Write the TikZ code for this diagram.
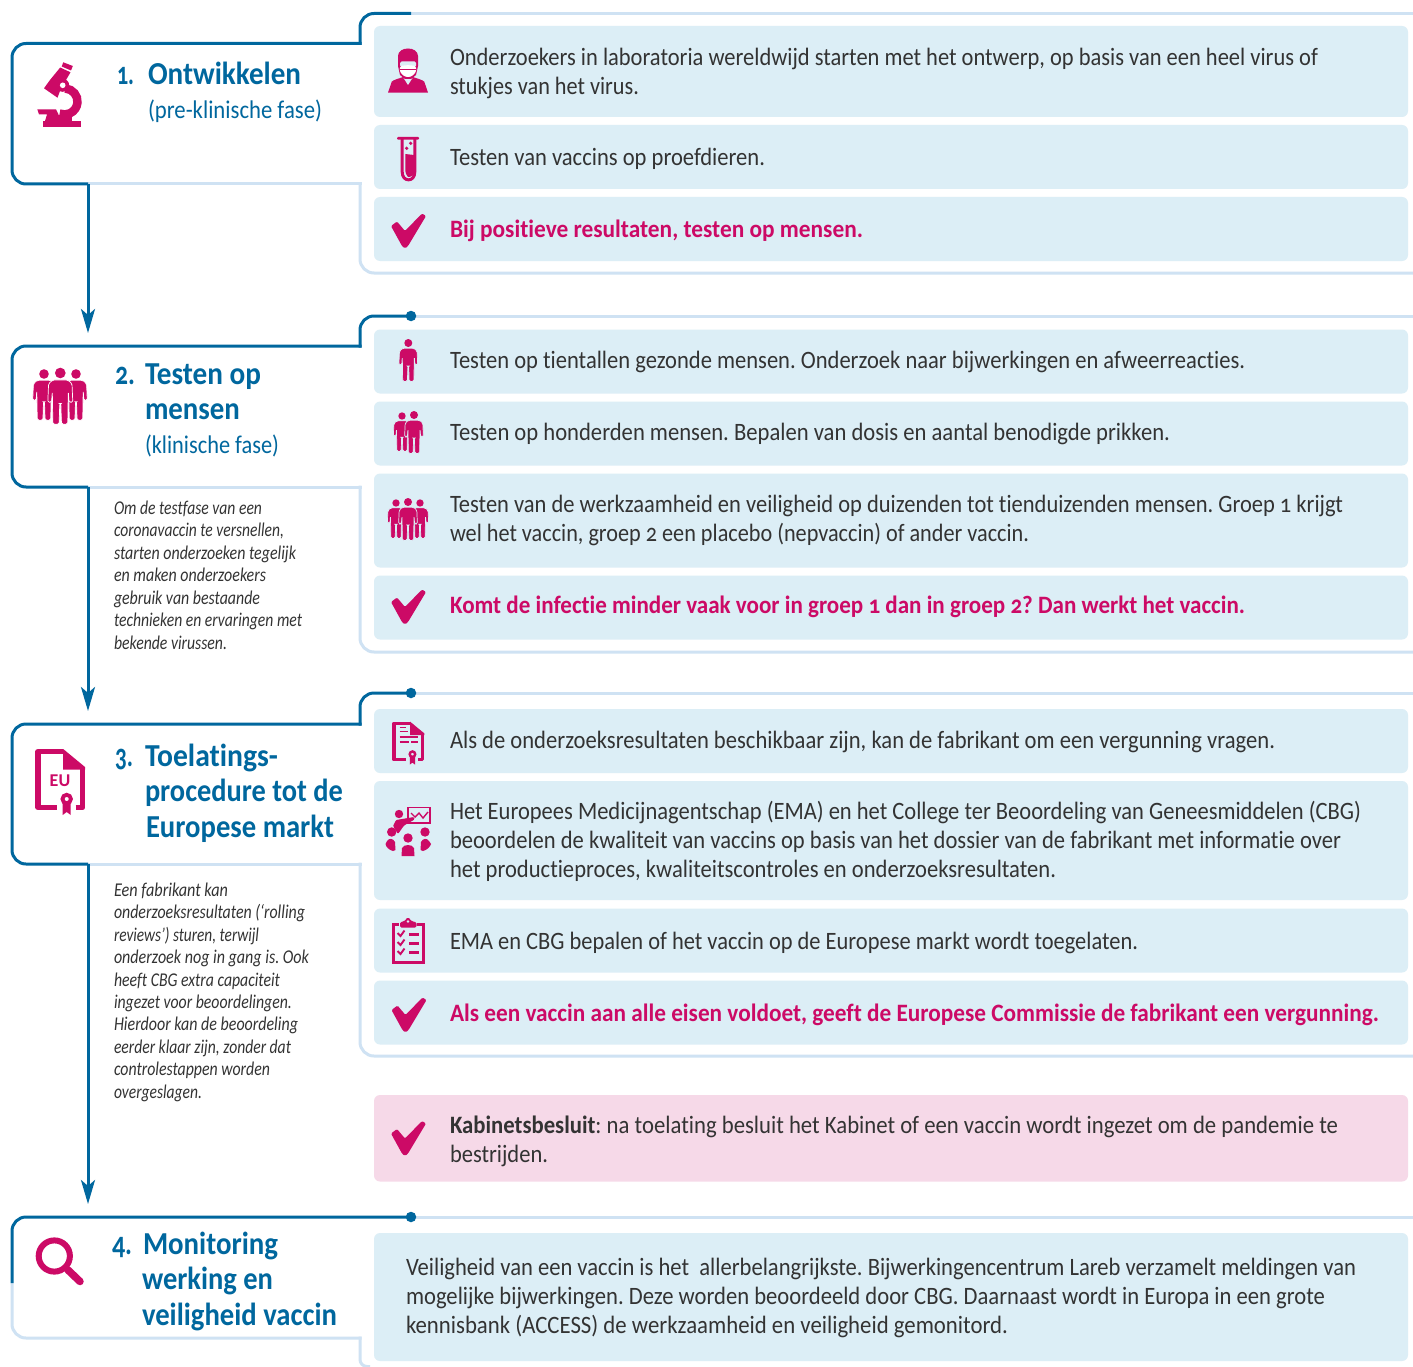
\documentclass[tikz,border=0pt]{standalone}
\usepackage{fontspec}
\usepackage{graphicx}
\setmainfont[Numbers=OldStyle,Ligatures=NoCommon]{Carlito}
\usetikzlibrary{arrows.meta}
\definecolor{dkblue}{HTML}{00679E}
\definecolor{ltline}{HTML}{CFE2F3}
\definecolor{boxblue}{HTML}{DCEEF6}
\definecolor{boxpink}{HTML}{F6D9E8}
\definecolor{mag}{HTML}{CC0A66}
\definecolor{txt}{HTML}{333333}
\newcommand\fitw[2]{\sbox0{#2}\pgfmathsetmacro\fitr{(#1)/\wd0}\scalebox{\fitr}[1]{\usebox0}}
\newcommand\tl[6]{\node[#1,anchor=base west] (#2) at (#3,#4) {\frenchspacing\fitw{#5-#3}{#6}};}
\newcommand\chkicon[2]{\fill[mag,rounded corners=1.2pt,shift={(#1,#2)}] (0,13)--(6,8.5)--(14,18)--(31,.5)--(35,3)--(17,33)--(14,35.5)--(11,33)--cycle;}
\newcommand\personicon[4]{\begin{scope}[shift={(#1,#2)},scale=#3]
\fill[mag] (0,0) circle (4);
\filldraw[fill=mag,draw=#4,line width=.7pt,rounded corners=1.5pt] (-5.5,5.2)--(5.5,5.2)--(8.8,8)--(9.4,22)--(6.6,22)--(6,14)--(5.6,38.5)--(.9,38.5)--(.4,23)--(-.4,23)--(-.9,38.5)--(-5.6,38.5)--(-6,14)--(-6.6,22)--(-9.4,22)--(-8.8,8)--cycle;
\end{scope}}
\newcommand\docicon[4]{\begin{scope}[shift={(#1,#2)},scale=#3]
\draw[mag,line width=#4pt,line join=round] (27.5,2.5)--(2.5,2.5)--(2.5,58.5)--(21,58.5);
\draw[mag,line width=#4pt,line join=round] (40,58.5)--(46.8,58.5)--(46.8,18);
\fill[mag] (27.5,0)--(49.3,18)--(49.3,20.5)--(27.5,20.5)--cycle;
\draw[mag,line width=#4*.7pt] (31,50) circle (4.2);
\fill[mag] (27,54)--(35,54)--(35,66)--(31,63)--(27,66)--cycle;
\end{scope}}
\newcommand\stepframe[4]{% header top, header bottom, frame top, frame bottom
\draw[lt] (88,#2)--(361.5,#2);
\draw[lt,rounded corners=14pt] (360,#2-1.5)--(360,#4)--(1420,#4);
\draw[lt] (411,#3)--(1420,#3);
\draw[dk,rounded corners=14pt] (88,#2)--(12,#2)--(12,#1)--(361.5,#1);
\draw[dk,rounded corners=14pt] (360,#1+1.5)--(360,#3)--(411,#3);
}
\tikzset{
 lt/.style={draw=ltline,line width=3pt},
 dk/.style={draw=dkblue,line width=3pt},
 flow/.style={draw=dkblue,line width=3pt,-{Stealth[length=24pt,width=14pt,inset=6pt]}},
 dotmark/.style={circle,fill=dkblue,inner sep=0,minimum size=10.5pt},
 bluebox/.style={fill=boxblue,rounded corners=6pt,inner sep=0,outer sep=0,anchor=north west,minimum width=1034pt},
 pinkbox/.style={fill=boxpink,rounded corners=6pt,inner sep=0,outer sep=0,anchor=north west,minimum width=1034pt},
 body/.style={text=txt,font=\fontsize{25}{28}\selectfont,inner sep=0,outer sep=0},
 bodyb/.style={text=mag,font=\fontsize{25}{28}\selectfont\bfseries,inner sep=0,outer sep=0},
 head/.style={text=dkblue,font=\fontsize{32}{35}\selectfont\bfseries,inner sep=0,outer sep=0},
 sub/.style={text=dkblue,font=\fontsize{25.5}{28}\selectfont,inner sep=0,outer sep=0},
 note/.style={text=txt,font=\fontsize{19.5}{22}\selectfont\itshape,inner sep=0,outer sep=0},
}
\begin{document}
\begin{tikzpicture}[x=1pt,y=-1pt]
\useasboundingbox (0,0) rectangle (1413,1367);
\fill[white] (0,0) rectangle (1413,1367);
% frames
\stepframe{43.5}{184}{13.5}{273}
\stepframe{346}{487}{316}{652}
\stepframe{724}{864}{693}{1056}
\draw[lt] (411,1217)--(1420,1217);
\draw[lt,rounded corners=14pt] (12,1283)--(12,1338)--(361.5,1338);
\draw[lt,rounded corners=7pt] (360,1336.5)--(360,1366.5)--(370,1366.5);
\draw[dk,rounded corners=14pt] (12,1283)--(12,1217)--(411,1217);
\node[dotmark] (d2) at (411,316) {};
\node[dotmark] (d3) at (411,693) {};
\node[dotmark] (d4) at (411,1217) {};
% arrows
\coordinate (s1) at (88,184); \coordinate (e1) at (88,333);
\coordinate (s2) at (88,487); \coordinate (e2) at (88,711);
\coordinate (s3) at (88,864); \coordinate (e3) at (88,1204);
\draw[flow] (s1)--(e1);
\draw[flow] (s2)--(e2);
\draw[flow] (s3)--(e3);
% boxes
\node[bluebox,minimum height=91pt] (b1) at (374,26) {};
\node[bluebox,minimum height=64pt] (b2) at (374,125) {};
\node[bluebox,minimum height=64pt] (b3) at (374,197) {};
\node[bluebox,minimum height=64pt] (b4) at (374,329.5) {};
\node[bluebox,minimum height=64pt] (b5) at (374,401.5) {};
\node[bluebox,minimum height=94pt] (b6) at (374,473.5) {};
\node[bluebox,minimum height=64pt] (b7) at (374,575.5) {};
\node[bluebox,minimum height=64pt] (b8) at (374,709) {};
\node[bluebox,minimum height=119pt] (b9) at (374,781) {};
\node[bluebox,minimum height=64pt] (b10) at (374,908.5) {};
\node[bluebox,minimum height=64pt] (b11) at (374,980.5) {};
\node[pinkbox,minimum height=86.5pt] (b12) at (374,1095) {};
\node[bluebox,minimum height=128pt] (b13) at (374,1233) {};
% body texts
\tl{body}{t1a}{450}{65.5}{1318}{Onderzoekers in laboratoria wereldwijd starten met het ontwerp, op basis van een heel virus of}
\tl{body}{t1b}{450}{94.5}{639}{stukjes van het virus.}
\tl{body}{t2}{450}{165.5}{765}{Testen van vaccins op proefdieren.}
\tl{bodyb}{t3}{450}{237}{863}{Bij positieve resultaten, testen op mensen.}
\tl{body}{t4}{450}{368}{1245}{Testen op tientallen gezonde mensen. Onderzoek naar bijwerkingen en afweerreacties.}
\tl{body}{t5}{450}{440}{1170}{Testen op honderden mensen. Bepalen van dosis en aantal benodigde prikken.}
\tl{body}{t6a}{450}{512}{1343}{Testen van de werkzaamheid en veiligheid op duizenden tot tienduizenden mensen. Groep 1 krijgt}
\tl{body}{t6b}{450}{541}{1029}{wel het vaccin, groep 2 een placebo (nepvaccin) of ander vaccin.}
\tl{bodyb}{t7}{450}{613}{1245}{Komt de infectie minder vaak voor in groep 1 dan in groep 2? Dan werkt het vaccin.}
\tl{body}{t8}{450}{748}{1275}{Als de onderzoeksresultaten beschikbaar zijn, kan de fabrikant om een vergunning vragen.}
\tl{body}{t9a}{450}{819}{1361}{Het Europees Medicijnagentschap (EMA) en het College ter Beoordeling van Geneesmiddelen (CBG)}
\tl{body}{t9b}{450}{848}{1341}{beoordelen de kwaliteit van vaccins op basis van het dossier van de fabrikant met informatie over}
\tl{body}{t9c}{450}{877}{1056}{het productieproces, kwaliteitscontroles en onderzoeksresultaten.}
\tl{body}{t10}{450}{949}{1138}{EMA en CBG bepalen of het vaccin op de Europese markt wordt toegelaten.}
\tl{bodyb}{t11}{450}{1021}{1379}{Als een vaccin aan alle eisen voldoet, geeft de Europese Commissie de fabrikant een vergunning.}
\tl{body}{t12a}{450}{1133}{1338}{\textbf{Kabinetsbesluit}: na toelating besluit het Kabinet of een vaccin wordt ingezet om de pandemie te}
\tl{body}{t12b}{450}{1162}{548}{bestrijden.}
\tl{body}{t13a}{406}{1275}{1356}{Veiligheid van een vaccin is het\ \ allerbelangrijkste. Bijwerkingencentrum Lareb verzamelt meldingen van}
\tl{body}{t13b}{406}{1304}{1325}{mogelijke bijwerkingen. Deze worden beoordeeld door CBG. Daarnaast wordt in Europa in een grote}
\tl{body}{t13c}{406}{1333}{1008}{kennisbank (ACCESS) de werkzaamheid en veiligheid gemonitord.}
% headings
\tl{head}{n1}{117}{84.5}{134}{1.}
\tl{head}{h1}{148}{84.5}{301}{Ontwikkelen}
\tl{sub}{s1a}{148}{118.5}{322}{(pre-klinische fase)}
\tl{head}{n2}{115}{384}{135}{2.}
\tl{head}{h2a}{145}{384}{261}{Testen op}
\tl{head}{h2b}{145}{419}{240}{mensen}
\tl{sub}{s2a}{145}{453.5}{279}{(klinische fase)}
\tl{head}{n3}{115}{766.5}{133}{3.}
\tl{head}{h3a}{145}{766.5}{278}{Toelatings-}
\tl{head}{h3b}{145}{801.5}{343}{procedure tot de}
\tl{head}{h3c}{146}{837.5}{334}{Europese markt}
\tl{head}{n4}{112}{1254}{132}{4.}
\tl{head}{h4a}{143}{1254}{278}{Monitoring}
\tl{head}{h4b}{142}{1289}{273}{werking en}
\tl{head}{h4c}{142}{1325}{337}{veiligheid vaccin}
% notes
\tl{note}{na1}{114}{514}{262}{Om de testfase van een}
\tl{note}{na2}{114}{536.5}{284}{coronavaccin te versnellen,}
\tl{note}{na3}{114}{559}{296}{starten onderzoeken tegelijk}
\tl{note}{na4}{114}{581.5}{266}{en maken onderzoekers}
\tl{note}{na5}{114}{604}{260}{gebruik van bestaande}
\tl{note}{na6}{114}{626.5}{302}{technieken en ervaringen met}
\tl{note}{na7}{114}{649}{227}{bekende virussen.}
\tl{note}{nb1}{114}{896}{228}{Een fabrikant kan}
\tl{note}{nb2}{114}{918.5}{305}{onderzoeksresultaten (‘rolling}
\tl{note}{nb3}{114}{941}{259}{reviews’) sturen, terwijl}
\tl{note}{nb4}{114}{963.5}{309}{onderzoek nog in gang is. Ook}
\tl{note}{nb5}{114}{986}{280}{heeft CBG extra capaciteit}
\tl{note}{nb6}{114}{1008}{292}{ingezet voor beoordelingen.}
\tl{note}{nb7}{114}{1030.5}{298}{Hierdoor kan de beoordeling}
\tl{note}{nb8}{114}{1053}{291}{eerder klaar zijn, zonder dat}
\tl{note}{nb9}{114}{1075.5}{270}{controlestappen worden}
\tl{note}{nb10}{114}{1098}{202}{overgeslagen.}
% checks
\chkicon{391}{213}
\chkicon{391}{589}
\chkicon{391.5}{997}
\chkicon{391}{1120.5}
% microscope
\fill[mag] (42.7,121) rectangle (81,127);
\fill[mag] (37.3,109.3)--(56,109.3)--(58.5,114.5)--(58,121)--(45,121)--(47,114.5)--(39,114.5)--cycle;
\fill[mag] (63.3,62.3)--(72.8,66)--(71,70.5)--(61.7,66.5)--cycle;
\fill[mag] (60.2,67.5)--(70.5,72.3)--(66,80)--(60,91)--(57.5,97.7)--(44,88.3)--(50,80)--cycle;
\draw[mag,line width=8.5pt] (64.5,101.5)++(-85:13) arc[start angle=-85,end angle=112,radius=13];
\fill[mag] (57,115.5) rectangle (72,121);
\fill[mag] (62.7,85.3) circle (6.5);
\fill[white] (62.7,85.3) circle (2.8);
% tube
\fill[mag,rounded corners=1pt] (397,137) rectangle (419,139.7);
\draw[mag,line width=3pt] (402.2,139)--(402.2,172)..controls(402.2,182.5)and(414.8,182.5)..(414.8,172)--(414.8,139);
\fill[mag] (405.3,154)--(414,155)--(414,172)..controls(414,175)and(412,177)..(408,177)..controls(406.5,175)and(405.3,173)..(405.3,171)--cycle;
\fill[mag] (410.7,143.3) circle (1.8);
\fill[mag] (406.7,148.3) circle (1.8);
% doctor
\fill[mag] (388,92.7)--(391.7,81.7)..controls(394,79.5)and(398,79)..(403,77)--(413,77)..controls(418,79)and(422,79.5)..(424.3,81.7)--(428,92.7)--cycle;
\fill[boxblue] (403.5,78)--(412.5,78)--(408,85)--cycle;
\fill[mag] (398,66)--(398,56)..controls(398,46)and(418,46)..(418,56)--(418,66)--(416,75)--(411,79)--(405,79)--(400,75)--cycle;
\fill[boxblue,rounded corners=1.5pt] (400,61.5)--(416,61.5)--(416,67)--(400,67)--cycle;
\fill[white,rounded corners=2.5pt] (399.8,66)--(408,65)--(416.2,66)--(416.2,72)--(411,77)--(405,77)--(399.8,72)--cycle;
\draw[mag,line width=1pt] (400,70)--(416,70);
% people
\personicon{44}{374}{1.2}{white}
\personicon{76}{374}{1.2}{white}
\personicon{60.3}{373}{1.33}{white}
\personicon{408.3}{343}{1}{boxblue}
\personicon{402}{416}{.92}{boxblue}
\personicon{414}{415}{1}{boxblue}
\personicon{396}{503}{.92}{boxblue}
\personicon{420}{503}{.92}{boxblue}
\personicon{408}{502}{1}{boxblue}
% EU document
\docicon{35.7}{749}{1}{5.5}
\node[text=mag,font=\fontsize{18}{18}\selectfont\bfseries,inner sep=0] (eu) at (60,781) {EU};
% small document
\docicon{392.3}{721.7}{.65}{3.5}
\draw[mag,line width=1.8pt] (399.5,727.5)--(406,727.5) (399.5,731.5)--(408,731.5) (399.5,737)--(418,737) (399.5,742)--(409,742) (411,742)--(418,742);
% meeting
\draw[mag,line width=1.7pt] (408,807.5) rectangle (430,823);
\draw[mag,line width=1.4pt] (411,813)--(415,817)--(419,813)--(423,818)--(428,812);
\fill[mag] (399,814) circle (4.2);
\fill[mag,rounded corners=1pt] (393,826)--(396,820)--(414,817)--(414.5,819.5)--(404,825.5)--(398,834)--cycle;
\fill[mag] (391.7,832) circle (4.7);
\fill[mag] (408,838) circle (4.7);
\fill[mag] (425,832) circle (4.7);
\fill[mag] (387,841)..controls(389,838)and(393,838)..(395,842)--(395.5,850)--(393,851)..controls(389,850)and(386,847)..(385.5,844)--cycle;
\fill[mag] (401.5,856)--(402,848)..controls(404,844)and(412,844)..(414,848)--(414.5,856)--cycle;
\fill[mag] (421,842)..controls(423,838)and(427,838)..(429,841)--(431,844)..controls(430,847)and(427,850)..(423,851)--(420.5,850)--cycle;
% clipboard
\draw[mag,line width=3pt] (399,924.5)--(393.5,924.5)--(393.5,962)--(423,962)--(423,924.5)--(417,924.5);
\fill[mag,rounded corners=1.5pt] (400,927.5)--(400,922)--(404,921.5)--(408,917)--(412,921.5)--(416.5,922)--(416.5,927.5)--cycle;
\fill[boxblue] (408,921.5) circle (1.3);
\draw[mag,line width=1.9pt] (397.5,933)--(400.5,936)--(404.5,930.5) (397.5,942)--(400.5,945)--(404.5,939.5) (397.5,951)--(400.5,954)--(404.5,948.5);
\draw[mag,line width=2.2pt] (409,934.5)--(419,934.5) (409,943.5)--(419,943.5) (409,952.5)--(419,952.5);
% magnifier
\draw[mag,line width=6pt] (54.3,1256) circle (15.6);
\draw[mag,line width=7.5pt,line cap=round] (68,1270)--(80,1281.5);
\end{tikzpicture}
\end{document}
